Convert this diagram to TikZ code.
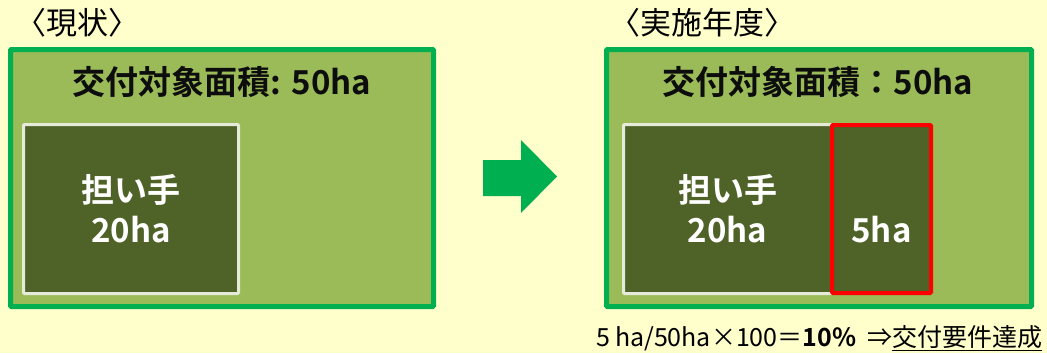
\documentclass[tikz,border=0pt]{standalone}
\usepackage{fontspec}
\setmainfont{Noto Sans CJK JP}[BoldFont={Noto Sans CJK JP Bold}]
\usepackage{tikz}
\usetikzlibrary{positioning}

\definecolor{paper}{HTML}{FFFFCC}
\definecolor{fieldgreen}{HTML}{9BBB59}
\definecolor{edgegreen}{HTML}{00B050}
\definecolor{darkplot}{HTML}{4F6228}
\definecolor{paleedge}{HTML}{E6EBD9}

\begin{document}
\begin{tikzpicture}[x=1pt,y=-1pt]
        % Setup the styles for the boxes
        \tikzset{field box/.style={rectangle, anchor=north west,
                                   inner sep=0pt, outer sep=0pt,
                                   minimum width=423pt, minimum height=257pt,
                                   line width=5pt, rounded corners=1pt,
                                   draw=edgegreen, fill=fieldgreen},
                 plot box/.style={rectangle, anchor=north west,
                                  inner sep=0pt, outer sep=0pt,
                                  line width=3pt, rounded corners=1pt,
                                  draw=paleedge, fill=darkplot,
                                  text=white, font=\fontsize{33}{40}\selectfont\bfseries,
                                  align=center},
                 heading/.style={font=\fontsize{31}{34}\selectfont, anchor=west},
                 area label/.style={font=\fontsize{33}{36}\selectfont\bfseries,
                                    text=black!95}}

        \fill[paper] (0,0) rectangle (1047,353);

        % Draw the boxes
        \node[heading] at (12,23) (nowtitle) {〈現状〉};
        \node[field box] at (10.5,49.5) (nowfield) {};
        \node[area label] at (222,82) (nowarea) {交付対象面積: 50ha};
        \node[plot box, minimum width=215pt, minimum height=169pt]
            at (23.5,124.5) (nowplot) {担い手\\20ha};

        \node[heading] at (606,23) (plantitle) {〈実施年度〉};
        \node[field box, minimum width=425pt] at (606.5,49.5) (planfield) {};
        \node[area label] at (818,82) (planarea) {交付対象面積：50ha};
        \node[plot box, minimum width=208pt, minimum height=169pt]
            at (623.5,124.5) (planplot) {担い手\\20ha};
        \node[plot box, draw=red, line width=4pt,
              minimum width=99pt, minimum height=168pt]
            at (832,125) (newplot) {\strut\\5ha};

        % Draw the arrow
        \fill[edgegreen] (483,160) -- (521,160) -- (521,140) -- (557,176.5)
            -- (521,213) -- (521,196) -- (483,196) -- cycle;

        \node[anchor=east, font=\fontsize{25}{28}\selectfont] at (1046,338) (rate)
            {5\,ha/50ha×100＝\textbf{10\%}\ \ ⇒\underline{交付要件達成}};
\end{tikzpicture}
\end{document}
